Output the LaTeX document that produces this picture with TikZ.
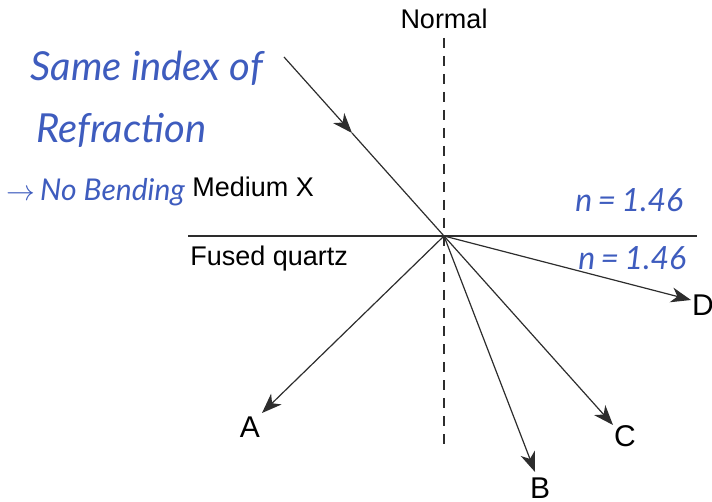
\documentclass[tikz,border=0pt]{standalone}
\usepackage{fontspec}
\setmainfont{Liberation Sans}
\newfontfamily\handfont{Lato}
\usetikzlibrary{arrows.meta}
\definecolor{inkblue}{RGB}{62,92,190}
\definecolor{raygray}{RGB}{45,45,45}

\begin{document}
\begin{tikzpicture}[
    x=0.5pt, y=-0.5pt,
    ray/.style={draw=raygray, line width=0.6pt, -{Stealth[length=10pt,width=7.5pt,inset=3pt]}},
    plain/.style={draw=raygray, line width=0.6pt},
    lbl/.style={font=\fontsize{13.5}{16}\selectfont, inner sep=0pt},
    hand/.style={font=\handfont\itshape\fontsize{20}{24}\selectfont, text=inkblue, inner sep=0pt, anchor=west}
]
    \useasboundingbox (0,0) rectangle (712,502);

    % interface and normal
    \coordinate (O) at (444,236);
    \coordinate (left) at (188,236);
    \coordinate (right) at (697,236);
    \coordinate (ntop) at (444,38);
    \coordinate (nbot) at (444,450);
    \draw[plain, line width=0.9pt] (left) -- (right);
    \draw[plain, dash pattern=on 5pt off 4pt] (ntop) -- (nbot);

    \node[lbl] (normal) at (444,19) {Normal};
    \node[lbl, anchor=west] (mediumx) at (192,187) {Medium X};
    \node[lbl, anchor=west] (quartz) at (190,259) {Fused quartz};

    % incident ray
    \coordinate (src) at (284,57);
    \coordinate (mid) at (352,133);
    \draw[ray] (src) -- (mid);
    \draw[plain] (mid) -- (O);

    % refracted rays
    \node[lbl, font=\fontsize{15}{18}\selectfont] (A) at (250,427) {A};
    \node[lbl, font=\fontsize{15}{18}\selectfont] (B) at (540,488) {B};
    \node[lbl, font=\fontsize{15}{18}\selectfont] (C) at (625,436) {C};
    \node[lbl, font=\fontsize{15}{18}\selectfont] (D) at (703,305) {D};
    \coordinate (tA) at (262,413);
    \coordinate (tB) at (535,472);
    \coordinate (tC) at (613,425);
    \coordinate (tD) at (691,300);
    \draw[ray] (O) -- (tA);
    \draw[ray] (O) -- (tB);
    \draw[ray] (O) -- (tC);
    \draw[ray] (O) -- (tD);

    % handwritten notes
    \node[hand] (note1) at (30,68) {Same index of};
    \node[hand] (note2) at (36,130) {Refraction};
    \node[hand, font=\handfont\itshape\fontsize{15}{18}\selectfont] (note3) at (6,192) {$\rightarrow$\,No Bending};
    \node[hand, font=\handfont\itshape\fontsize{16}{19}\selectfont] (n1) at (575,200) {n\,=\,1.46};
    \node[hand, font=\handfont\itshape\fontsize{16}{19}\selectfont] (n2) at (578,258) {n\,=\,1.46};
\end{tikzpicture}
\end{document}
